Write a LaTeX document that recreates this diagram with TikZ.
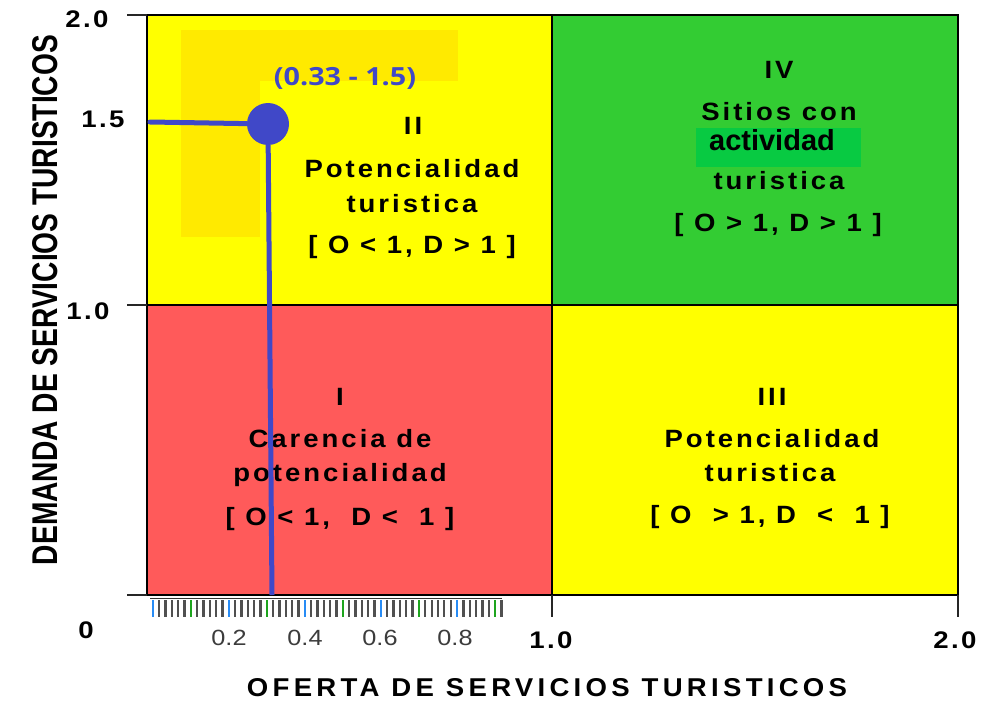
\documentclass[tikz,border=0pt]{standalone}
\usepackage{fontspec}
\usepackage{graphicx}
\setmainfont{Liberation Sans}
\newfontfamily\qfont{Liberation Sans}[FakeStretch=1.1, LetterSpace=12]
\newfontfamily\xtfont{Liberation Sans}[FakeStretch=1.1, LetterSpace=17]
\newfontfamily\axfont{Liberation Sans}[FakeStretch=1.15, LetterSpace=10]
\newfontfamily\tkfont{Liberation Sans}[FakeStretch=1.15]
\newfontfamily\osans{Open Sans}[FakeStretch=1.15]
\definecolor{qyel}{RGB}{255,255,0}
\definecolor{qyelb}{RGB}{255,234,0}
\definecolor{qred}{RGB}{255,90,90}
\definecolor{qgreen}{RGB}{51,204,51}
\definecolor{qgreenb}{RGB}{8,202,66}
\definecolor{ptblue}{RGB}{64,72,200}
\definecolor{tkblue}{RGB}{40,140,245}
\definecolor{tkgreen}{RGB}{30,165,30}
\definecolor{tkgray}{RGB}{80,80,80}
\definecolor{tklab}{RGB}{60,60,60}
\begin{document}
\begin{tikzpicture}[x=1pt,y=-1pt,
  qt/.style={font=\qfont\bfseries\fontsize{25}{30}\selectfont, anchor=base, inner sep=0pt},
  qplain/.style={font=\bfseries\fontsize{29}{32}\selectfont, anchor=base, inner sep=0pt},
  axl/.style={font=\axfont\bfseries\fontsize{24}{28}\selectfont, anchor=base, inner sep=0pt},
  tkl/.style={font=\tkfont\fontsize{22}{25}\selectfont, text=tklab, anchor=base, inner sep=0pt},
  bline/.style={draw=ptblue, line width=5pt, line cap=round},
  qline/.style={draw=black, line width=1.3pt},
  tick/.style={draw=black!85, line width=1.3pt},
]
\useasboundingbox (0,0) rectangle (1002,701);
\fill[white] (0,0) rectangle (1002,701);
% quadrants
\fill[qyel] (147,15) rectangle (552,305);
\fill[qyelb] (181,30) rectangle (458,81);
\fill[qyelb] (181,30) rectangle (260,237);
\fill[qgreen] (552,15) rectangle (958,305);
\fill[qgreenb] (696,128) rectangle (861,167);
\fill[qred] (147,305) rectangle (552,595);
\fill[qyel] (552,305) rectangle (958,595);
\draw[qline] (147,15) rectangle (958,595);
\draw[qline] (552,15) -- (552,595);
\draw[qline] (147,305) -- (958,305);
% axis ticks
\draw[tick] (127,15) -- (147,15);
\draw[tick] (127,305) -- (147,305);
\draw[tick] (127,595) -- (147,595);
\draw[tick] (552,595) -- (552,617);
\draw[tick] (958,595) -- (958,617);
% minor tick strip
\draw[draw=black!80, line width=1pt] (150,598) -- (502,598);
\foreach \i in {0,...,55}{
  \pgfmathtruncatemacro\m{mod(\i,12)}
  \ifnum\m=0 \def\tc{tkblue}\else\ifnum\m=6 \def\tc{tkgreen}\else\def\tc{tkgray}\fi\fi
  \draw[draw=\tc, line width=2.3pt] ({152.7+\i*6.34},600) -- ({152.7+\i*6.34},617);
}
\node[tkl] (t02) at (229,645) {0.2};
\node[tkl] (t04) at (305,645) {0.4};
\node[tkl] (t06) at (380,645) {0.6};
\node[tkl] (t08) at (455,645) {0.8};
% axis labels
\node[axl] (y20) at (87,28) {2.0};
\node[axl] (y15) at (103,128) {1.5};
\node[axl] (y10) at (88,319) {1.0};
\node[axl] (y0) at (86,638) {0};
\node[axl] (x10) at (551,648) {1.0};
\node[axl] (x20) at (955,648) {2.0};
% axis titles
\node[rotate=90, inner sep=0pt] (ytitle) at (45.5,300)
  {\resizebox{530pt}{25pt}{\bfseries DEMANDA DE SERVICIOS TURISTICOS}};
\node[inner sep=0pt] (xtitle) at (547,687.5)
  {\resizebox{600pt}{18pt}{\xtfont\bfseries OFERTA DE SERVICIOS TURISTICOS}};
% quadrant II
\node[qt] (q2a) at (413,135) {II};
\node[qt] (q2b) at (412,177) {Potencialidad};
\node[qt] (q2c) at (412,212) {turistica};
\node[qt] (q2d) at (412,253) {[ O < 1, D > 1 ]};
% quadrant IV
\node[qt] (q4a) at (779,79) {IV};
\node[qt] (q4b) at (779,121) {Sitios con};
\node[qplain] (q4c) at (772,150) {actividad};
\node[qt] (q4d) at (779,189) {turistica};
\node[qt] (q4e) at (778,231) {[ O > 1, D > 1 ]};
% quadrant I
\node[qt] (q1a) at (340,405) {I};
\node[qt] (q1b) at (340,447) {Carencia de};
\node[qt] (q1c) at (340,481) {potencialidad};
\node[qt] (q1d) at (340,525) {[ O < 1,\ \ D <\ \ 1 ]};
% quadrant III
\node[qt] (q3a) at (772,405) {III};
\node[qt] (q3b) at (772,447) {Potencialidad};
\node[qt] (q3c) at (770,481) {turistica};
\node[qt] (q3d) at (770,523) {[ O\ \ > 1, D\ \ <\ \ 1 ]};
% point
\node[circle, fill=ptblue, minimum size=42pt, inner sep=0pt] (pt) at (268,124) {};
\coordinate (hstart) at (150,122);
\coordinate (vend) at (272,595);
\draw[bline] (hstart) -- (pt);
\draw[bline, line cap=butt] (pt) -- (vend);
\node[font=\osans\bfseries\fontsize{25}{30}\selectfont, text=ptblue, anchor=base, inner sep=0pt] (ptlab) at (345,85) {(0.33 - 1.5)};
\end{tikzpicture}
\end{document}
